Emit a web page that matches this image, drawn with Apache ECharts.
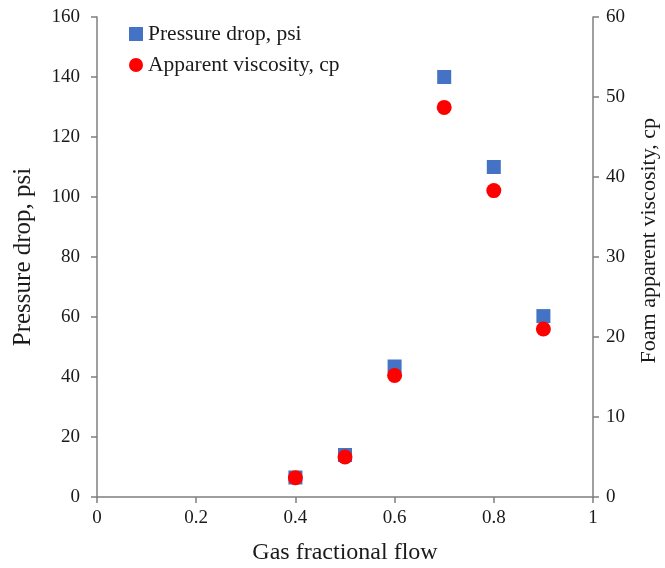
<!DOCTYPE html>
<html>
<head>
<meta charset="utf-8">
<script src="https://cdn.jsdelivr.net/npm/echarts@6/dist/echarts.min.js"></script>
<style>
  html, body { margin: 0; padding: 0; background: #fff; }
  #chart { width: 665px; height: 568px; }
</style>
</head>
<body>
<div id="chart"></div>
<script>
// Foam flow test: pressure drop and apparent viscosity vs. gas fractional flow
const gasFraction = [0.4, 0.5, 0.6, 0.7, 0.8, 0.9];
const pressureDrop = [6.5, 14, 43.5, 140, 110, 60.3];      // psi
const apparentViscosity = [2.4, 5.0, 15.2, 48.7, 38.3, 21.0]; // cp

const FONT = '"Liberation Serif", "Times New Roman", serif';
const AXIS_COLOR = '#7f7f7f';
const TEXT_COLOR = '#1a1a1a';

const chart = echarts.init(document.getElementById('chart'), null, { renderer: 'canvas' });

const axisCommon = {
  axisLine: { show: true, onZero: false, lineStyle: { color: AXIS_COLOR, width: 1.5 } },
  axisTick: { show: true, inside: false, length: 6, lineStyle: { color: AXIS_COLOR, width: 1.5 } },
  splitLine: { show: false },
  axisLabel: { color: TEXT_COLOR, fontFamily: FONT, fontSize: 19 },
  nameTextStyle: { color: TEXT_COLOR, fontFamily: FONT, fontSize: 23 }
};

chart.setOption({
  animation: false,
  backgroundColor: '#ffffff',
  grid: { left: 97, right: 72, top: 17, bottom: 71, containLabel: false, outerBoundsMode: 'none' },
  legend: {
    orient: 'vertical',
    left: 124,
    top: 18,
    itemWidth: 14,
    itemHeight: 14,
    itemGap: 9,
    textStyle: { color: TEXT_COLOR, fontFamily: FONT, fontSize: 21.5 },
    data: [
      { name: 'Pressure drop, psi', icon: 'rect' },
      { name: 'Apparent viscosity, cp', icon: 'circle' }
    ]
  },
  // right-hand axis title, set slightly above the axis centre
  graphic: [{
    type: 'text',
    left: 638,
    top: 118,
    rotation: Math.PI / 2,
    style: {
      text: 'Foam apparent viscosity, cp',
      fill: TEXT_COLOR,
      font: '22px "Liberation Serif", "Times New Roman", serif'
    }
  }],
  xAxis: Object.assign({}, axisCommon, {
    type: 'value',
    min: 0, max: 1, interval: 0.2,
    name: 'Gas fractional flow',
    nameLocation: 'middle',
    nameGap: 44,
    nameTextStyle: Object.assign({}, axisCommon.nameTextStyle, { fontSize: 24 }),
    axisLabel: Object.assign({}, axisCommon.axisLabel, { margin: 12 })
  }),
  yAxis: [
    Object.assign({}, axisCommon, {
      type: 'value',
      min: 0, max: 160, interval: 20,
      name: 'Pressure drop, psi',
      nameLocation: 'middle',
      nameGap: 61,
      nameTextStyle: Object.assign({}, axisCommon.nameTextStyle, { fontSize: 25 }),
      axisLabel: Object.assign({}, axisCommon.axisLabel, { margin: 17 })
    }),
    Object.assign({}, axisCommon, {
      type: 'value',
      position: 'right',
      min: 0, max: 60, interval: 10,
      axisLabel: Object.assign({}, axisCommon.axisLabel, { margin: 13 })
    })
  ],
  series: [
    {
      name: 'Pressure drop, psi',
      type: 'scatter',
      yAxisIndex: 0,
      symbol: 'rect',
      symbolSize: 14,
      itemStyle: { color: '#4472c4', opacity: 1 },
      z: 2,
      data: gasFraction.map((x, i) => [x, pressureDrop[i]])
    },
    {
      name: 'Apparent viscosity, cp',
      type: 'scatter',
      yAxisIndex: 1,
      symbol: 'circle',
      symbolSize: 15,
      itemStyle: { color: '#ff0000', opacity: 1 },
      z: 3,
      data: gasFraction.map((x, i) => [x, apparentViscosity[i]])
    }
  ]
});
</script>
</body>
</html>
